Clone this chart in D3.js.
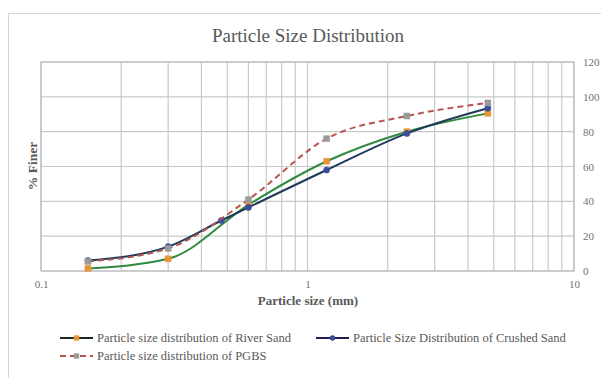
<!DOCTYPE html>
<html>
<head>
<meta charset="utf-8">
<script src="https://cdn.jsdelivr.net/npm/d3@7"></script>
<style>
  body { margin: 0; background: #fff; }
  svg text { font-family: "Liberation Serif", "DejaVu Serif", serif; }
</style>
</head>
<body>
<div id="chart"></div>
<script>
// sieve sizes (mm) and % finer
const riverSizes = [0.15, 0.3, 0.6, 1.18, 2.36, 4.75];
const riverFiner = [1.5, 7, 38, 63, 80, 90.5];
const crushedSizes = [0.15, 0.3, 0.475, 0.6, 1.18, 2.36, 4.75];
const crushedFiner = [6, 14, 29, 36.5, 58, 79, 93.5];
const pgbsSizes = [0.15, 0.3, 0.6, 1.18, 2.36, 4.75];
const pgbsFiner = [5.5, 13, 41, 76, 89, 96.5];
const xTicks = [0.1, 1, 10];
const yTicks = [0, 20, 40, 60, 80, 100, 120];

const W = 601, H = 378;
const plot = { left: 41, right: 574, top: 62, bottom: 271 };

const svg = d3.select("#chart").append("svg")
    .attr("width", W)
    .attr("height", H);

// outer chart frame
svg.append("rect")
    .attr("x", 8.5).attr("y", 13.5)
    .attr("width", 600).attr("height", 380)
    .attr("fill", "none")
    .attr("stroke", "#d4d4d4");

const x = d3.scaleLog().domain([0.1, 10]).range([plot.left, plot.right]);
const y = d3.scaleLinear().domain([0, 120]).range([plot.bottom, plot.top]);

// vertical log grid (majors + minors)
const gridX = [];
[0.1, 1].forEach(dec => { for (let k = 1; k <= 9; k++) gridX.push(dec * k); });
gridX.push(10);

svg.append("g").selectAll("line")
    .data(gridX)
    .enter().append("line")
    .attr("x1", d => x(d)).attr("x2", d => x(d))
    .attr("y1", plot.top).attr("y2", plot.bottom)
    .attr("stroke", "#c8c8c8")
    .attr("stroke-width", 1.2);

svg.append("g").selectAll("line")
    .data(yTicks)
    .enter().append("line")
    .attr("x1", plot.left).attr("x2", plot.right)
    .attr("y1", d => y(d)).attr("y2", d => y(d))
    .attr("stroke", "#c8c8c8")
    .attr("stroke-width", 1.2);

// plot border
svg.append("rect")
    .attr("x", plot.left).attr("y", plot.top)
    .attr("width", plot.right - plot.left)
    .attr("height", plot.bottom - plot.top)
    .attr("fill", "none")
    .attr("stroke", "#bdbdbd")
    .attr("stroke-width", 1.2);

// axes (labels only, Excel style)
const xAxis = svg.append("g")
    .attr("transform", `translate(0, ${plot.bottom})`)
    .call(d3.axisBottom(x).tickValues(xTicks).tickFormat(d3.format("")).tickSize(0).tickPadding(9));
xAxis.select(".domain").remove();
xAxis.selectAll("text").attr("font-size", 11).attr("fill", "#707070")
    .style("font-family", "'Liberation Serif', serif");

const yAxis = svg.append("g")
    .attr("transform", `translate(${plot.right}, 0)`)
    .call(d3.axisRight(y).tickValues(yTicks).tickSize(0).tickPadding(9));
yAxis.select(".domain").remove();
yAxis.selectAll("text").attr("font-size", 11).attr("fill", "#707070")
    .style("font-family", "'Liberation Serif', serif");

// titles
svg.append("text")
    .attr("x", 308).attr("y", 42)
    .attr("text-anchor", "middle")
    .attr("font-size", 19)
    .attr("fill", "#595959")
    .text("Particle Size Distribution");

svg.append("text")
    .attr("x", 308).attr("y", 305)
    .attr("text-anchor", "middle")
    .attr("font-size", 13)
    .attr("font-weight", "bold")
    .attr("fill", "#595959")
    .text("Particle size (mm)");

svg.append("text")
    .attr("transform", `translate(37, 166) rotate(-90)`)
    .attr("text-anchor", "middle")
    .attr("font-size", 13.5)
    .attr("font-weight", "bold")
    .attr("fill", "#595959")
    .text("% Finer");

const series = [
    { name: "Particle size distribution of River Sand", sizes: riverSizes, finer: riverFiner,
      line: "#2f8a3e", legendLine: "#1d2b1d", marker: "#e8953a", shape: d3.symbolSquare, dash: null },
    { name: "Particle Size Distribution of Crushed Sand", sizes: crushedSizes, finer: crushedFiner,
      line: "#1f3a5c", legendLine: "#1f2150", marker: "#3b4c9a", shape: d3.symbolCircle, dash: null },
    { name: "Particle size distribution of PGBS", sizes: pgbsSizes, finer: pgbsFiner,
      line: "#b4554f", legendLine: "#b4554f", marker: "#9a9a9a", shape: d3.symbolSquare, dash: "6,4" }
];

const line = d3.line().curve(d3.curveMonotoneX).x(d => x(d[0])).y(d => y(d[1]));

series.forEach(s => {
    const pts = s.sizes.map((v, i) => [v, s.finer[i]]);
    svg.append("path")
        .datum(pts)
        .attr("d", line)
        .attr("fill", "none")
        .attr("stroke", s.line)
        .attr("stroke-width", 2)
        .attr("stroke-dasharray", s.dash);
    svg.append("g").selectAll("path")
        .data(pts)
        .enter().append("path")
        .attr("transform", d => `translate(${x(d[0])}, ${y(d[1])})`)
        .attr("d", d3.symbol().type(s.shape).size(s.shape === d3.symbolCircle ? 30 : 36))
        .attr("fill", s.marker)
        .attr("stroke", s.marker)
        .attr("stroke-width", 0.5);
});

// legend
const legendPos = [[60, 338], [316, 338], [60, 356]];
series.forEach((s, i) => {
    const [lx, ly] = legendPos[i];
    const g = svg.append("g").attr("transform", `translate(${lx}, ${ly})`);
    g.append("line")
        .attr("x1", 0).attr("x2", 33).attr("y1", 0).attr("y2", 0)
        .attr("stroke", s.legendLine)
        .attr("stroke-width", 2)
        .attr("stroke-dasharray", s.dash);
    g.append("path")
        .attr("transform", "translate(16.5, 0)")
        .attr("d", d3.symbol().type(s.shape).size(s.shape === d3.symbolCircle ? 24 : 28))
        .attr("fill", s.marker);
    g.append("text")
        .attr("x", 37).attr("y", 0)
        .attr("dy", "0.35em")
        .attr("font-size", 12.5)
        .attr("fill", "#595959")
        .text(s.name);
});
</script>
</body>
</html>
